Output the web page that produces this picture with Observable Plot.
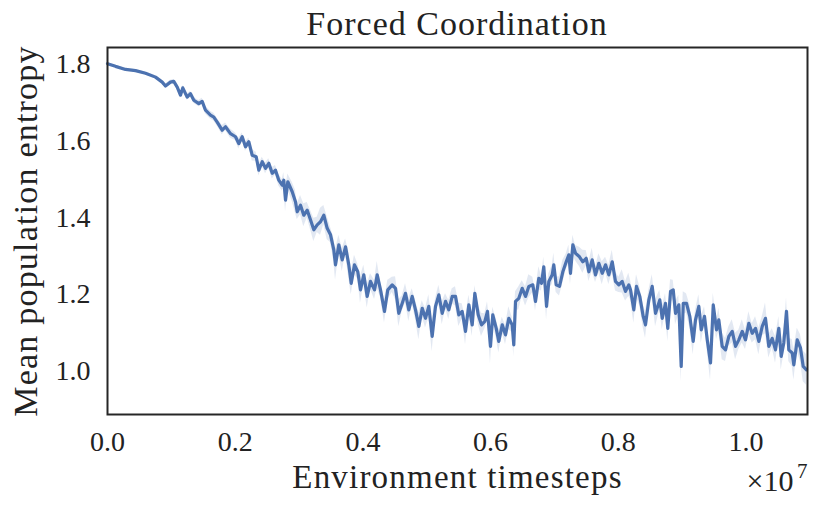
<!DOCTYPE html>
<html>
<head>
<meta charset="utf-8">
<script src="https://cdn.jsdelivr.net/npm/d3@7"></script>
<script src="https://cdn.jsdelivr.net/npm/@observablehq/plot@0.6"></script>
<style>
  body { margin: 0; background: #fff; }
  #wrap { width: 830px; height: 515px; position: relative; }
  #title { box-sizing: border-box; width: 830px; height: 44px; line-height: 44px; padding-left: 107px; padding-right: 23px;
    text-align: center; font-family: "Liberation Serif", serif; font-size: 34px; letter-spacing: 1px; color: #222; position: relative; top: 2px; }
</style>
</head>
<body>
<div id="wrap">
  <div id="title">Forced Coordination</div>
  <div id="chart"></div>
</div>
<script>
// x in units of 1e7 environment timesteps
const xs = [
  0.000,0.0125,0.0282,0.0439,0.0595,0.0752,0.0857,0.0908,0.0986,0.1038,
  0.1092,0.1143,0.1179,0.1248,0.1300,0.1352,0.1430,0.1483,0.1535,0.1613,
  0.1665,0.1718,0.1796,0.1848,0.1926,0.2005,0.2056,0.2110,0.2161,0.2213,
  0.2266,0.2329,0.2370,0.2423,0.2475,0.2526,0.2580,0.2631,0.2683,0.2736,
  0.2761,0.2788,0.2824,0.2893,0.2944,0.2971,0.3023,0.3074,0.3128,0.3179,
  0.3231,0.3284,0.3336,0.3388,0.3441,0.3493,0.3544,0.3571,0.3623,0.3676,
  0.3728,0.3779,0.3817,0.3868,0.3920,0.3962,0.4014,0.4067,0.4119,0.4182,
  0.4224,0.4276,0.4338,0.4390,0.4459,0.4511,0.4562,0.4616,0.4667,0.4719,
  0.4772,0.4824,0.4876,0.4929,0.4980,0.5032,0.5085,0.5137,0.5189,0.5242,
  0.5294,0.5345,0.5399,
  0.5450,0.5502,0.5555,0.5607,0.5659,0.5712,0.5753,0.5806,0.5857,0.5909,
  0.5951,0.5998,0.6034,0.6088,0.6128,0.6182,0.6233,0.6285,0.6338,0.6363,
  0.6390,0.6442,0.6495,0.6547,0.6598,0.6661,0.6703,0.6755,0.6797,0.6833,
  0.6876,0.6912,0.6965,0.6990,0.7027,0.7079,0.7131,0.7184,0.7225,0.7251,
  0.7288,0.7330,0.7392,0.7444,0.7497,0.7538,0.7591,0.7643,0.7695,0.7748,
  0.7800,0.7851,0.7905,0.7956,0.8008,0.8061,0.8113,0.8164,
  0.8191,0.8243,0.8285,0.8337,0.8390,0.8426,0.8478,0.8531,0.8583,0.8650,
  0.8688,0.8739,0.8775,0.8818,0.8860,0.8896,0.8948,0.8985,0.9017,0.9068,
  0.9120,0.9173,0.9209,0.9261,0.9299,0.9350,0.9393,0.9444,0.9487,0.9538,
  0.9574,0.9627,0.9679,0.9731,0.9784,0.9836,0.9887,0.9941,0.9992,1.0044,
  1.0097,1.0149,1.0201,1.0254,1.0305,1.0357,1.0410,1.0462,1.0514,1.0551,
  1.0592,1.0634,1.0670,1.0724,1.0749,1.0802,1.0853,1.0896,1.0947
];
// mean population entropy
const ys = [
  1.800,1.793,1.785,1.782,1.775,1.765,1.752,1.742,1.752,1.754,
  1.739,1.718,1.737,1.713,1.722,1.705,1.696,1.702,1.679,1.666,
  1.661,1.648,1.627,1.636,1.618,1.610,1.592,1.610,1.584,1.597,
  1.562,1.558,1.523,1.545,1.528,1.541,1.515,1.523,1.497,1.484,
  1.497,1.445,1.493,1.467,1.441,1.415,1.432,1.406,1.419,1.394,
  1.368,1.381,1.389,1.406,1.372,1.355,1.316,1.277,1.329,1.290,
  1.324,1.277,1.229,1.277,1.259,1.212,1.251,1.195,1.234,1.212,
  1.251,1.212,1.156,1.212,1.225,1.216,1.151,1.177,1.203,1.160,
  1.195,1.160,1.117,1.164,1.138,1.169,1.091,1.169,1.199,1.151,
  1.182,1.160,1.195,
  1.195,1.147,1.156,1.104,1.173,1.121,1.203,1.147,1.121,1.130,
  1.156,1.065,1.147,1.112,1.078,1.121,1.095,1.138,1.121,1.069,
  1.182,1.190,1.216,1.195,1.221,1.225,1.182,1.242,1.229,1.272,
  1.169,1.234,1.251,1.277,1.225,1.221,1.259,1.285,1.303,1.255,
  1.329,1.307,1.298,1.285,1.294,1.259,1.290,1.251,1.281,1.255,
  1.277,1.251,1.285,1.234,1.225,1.234,1.208,1.225,
  1.212,1.160,1.221,1.195,1.143,1.121,1.186,1.221,1.151,1.186,
  1.138,1.177,1.112,1.208,1.212,1.151,1.173,1.013,1.177,1.177,
  1.143,1.078,1.134,1.169,1.108,1.143,1.082,1.022,1.173,1.108,
  1.134,1.065,1.056,1.091,1.104,1.065,1.082,1.104,1.082,1.125,
  1.099,1.112,1.078,1.117,1.138,1.065,1.086,1.056,1.112,1.039,
  1.074,1.156,1.056,1.048,1.017,1.082,1.061,1.013,1.004
];
// half-width of the shaded band around the mean
const spread = [
  0.003,0.003,0.003,0.003,0.003,0.004,0.004,0.005,0.005,0.005,
  0.006,0.008,0.006,0.008,0.006,0.008,0.008,0.008,0.010,0.010,
  0.010,0.010,0.012,0.010,0.012,0.010,0.014,0.010,0.012,0.010,
  0.015,0.012,0.015,0.012,0.014,0.012,0.015,0.012,0.015,0.015,
  0.020,0.030,0.020,0.025,0.030,0.020,0.025,0.030,0.020,0.025,
  0.030,0.020,0.035,0.025,0.030,0.020,0.030,0.040,0.025,0.030,
  0.020,0.035,0.030,0.025,0.020,0.035,0.025,0.030,0.020,0.025,
  0.035,0.020,0.030,0.025,0.020,0.030,0.035,0.020,0.025,0.030,
  0.020,0.025,0.035,0.020,0.025,0.030,0.040,0.020,0.025,0.030,
  0.020,0.025,0.020,
  0.025,0.030,0.020,0.035,0.025,0.030,0.020,0.025,0.030,0.020,
  0.025,0.045,0.020,0.025,0.030,0.020,0.025,0.030,0.020,0.030,
  0.025,0.030,0.020,0.025,0.030,0.020,0.025,0.030,0.020,0.025,
  0.035,0.020,0.025,0.030,0.020,0.025,0.030,0.020,0.025,0.030,
  0.025,0.020,0.025,0.030,0.020,0.025,0.030,0.020,0.025,0.030,
  0.020,0.025,0.030,0.025,0.020,0.030,0.025,0.030,
  0.025,0.035,0.030,0.025,0.030,0.035,0.025,0.030,0.035,0.025,
  0.030,0.025,0.035,0.030,0.025,0.030,0.025,0.040,0.030,0.025,
  0.030,0.035,0.025,0.030,0.035,0.025,0.030,0.045,0.030,0.025,
  0.030,0.035,0.030,0.025,0.030,0.035,0.025,0.030,0.025,0.030,
  0.025,0.030,0.035,0.025,0.040,0.030,0.025,0.035,0.030,0.035,
  0.030,0.035,0.030,0.035,0.040,0.030,0.035,0.040,0.040
];
const xTicks = [0, 0.2, 0.4, 0.6, 0.8, 1.0];
const yTicks = [1.0, 1.2, 1.4, 1.6, 1.8];
const xDomain = [0, 1.0963];
const yDomain = [0.888, 1.842];

const rows = xs.map((x, i) => ({x, y: ys[i], lo: ys[i] - spread[i], hi: ys[i] + spread[i]}));

const blue = "#4c72b0";
const ink = "#222222";

const chart = Plot.plot({
  width: 830,
  height: 471,
  marginLeft: 107,
  marginRight: 23,
  marginTop: 3,
  marginBottom: 101,
  style: {fontFamily: "'Liberation Serif', serif", fontSize: "28px", color: ink, background: "#fff"},
  x: {domain: xDomain},
  y: {domain: yDomain},
  marks: [
    Plot.areaY(rows, {x: "x", y1: "lo", y2: "hi", fill: blue, fillOpacity: 0.16, curve: "linear"}),
    Plot.line(rows, {x: "x", y: "y", stroke: blue, strokeWidth: 3.2, strokeLinejoin: "round"}),
    Plot.frame({stroke: "#262626", strokeWidth: 2}),
    Plot.axisX({ticks: xTicks, tickFormat: d => d.toFixed(1), tickSize: 0, tickPadding: 17, label: null, fontSize: 28, fill: ink}),
    Plot.axisY({ticks: yTicks, tickFormat: d => d.toFixed(1), tickSize: 0, tickPadding: 17, label: null, fontSize: 28, fill: ink}),
    Plot.text(["Environment timesteps"], {frameAnchor: "bottom", textAnchor: "middle", lineAnchor: "middle", dy: 63, fontSize: 33, fill: ink}),
    Plot.text(["Mean population entropy"], {frameAnchor: "left", textAnchor: "middle", lineAnchor: "middle", rotate: -90, dx: -81, fontSize: 34, fill: ink}),
    Plot.text(["×10"], {frameAnchor: "bottom-right", textAnchor: "end", lineAnchor: "middle", dx: -14, dy: 67, fontSize: 30, fill: ink}),
    Plot.text(["7"], {frameAnchor: "bottom-right", textAnchor: "end", lineAnchor: "middle", dx: 0, dy: 57, fontSize: 21, fill: ink})
  ]
});
d3.select(chart).selectAll('g[aria-label="text"] text').filter(function() {
  return this.textContent.length > 3;
}).style("letter-spacing", "1.2px");
document.getElementById("chart").appendChild(chart);
</script>
</body>
</html>
